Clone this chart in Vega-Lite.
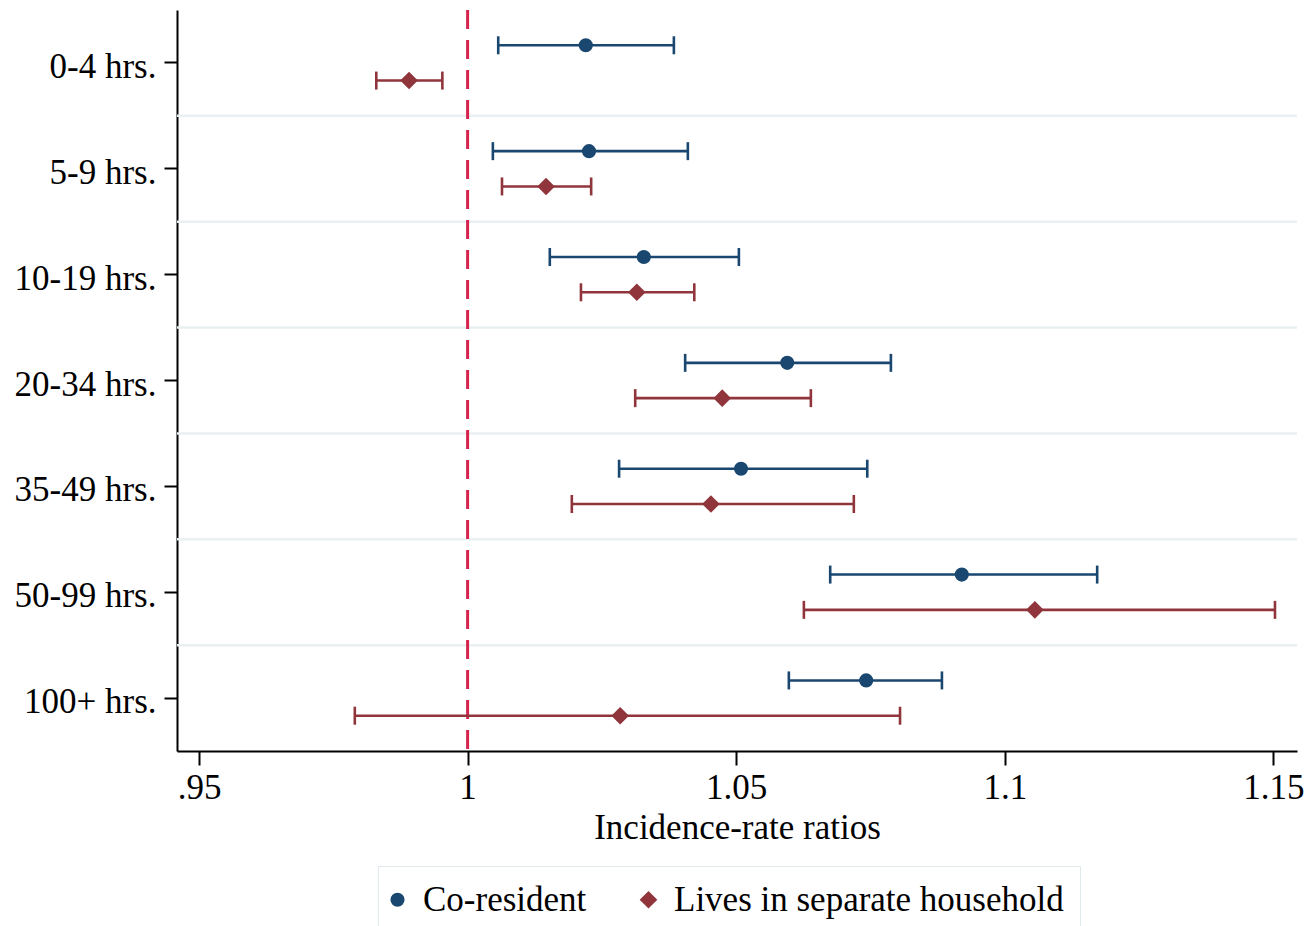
{
  "$schema": "https://vega.github.io/schema/vega-lite/v6.json",
  "width": 1120,
  "height": 741,
  "autosize": "none",
  "padding": {"left": 177, "top": 10, "right": 10, "bottom": 175},
  "background": "white",
  "config": {
    "view": {"stroke": null},
    "font": "Liberation Serif",
    "axis": {"labelFont": "Liberation Serif", "titleFont": "Liberation Serif", "labelColor": "black", "titleColor": "black", "domainColor": "black", "tickColor": "black", "labelFontWeight": "normal", "titleFontWeight": "normal"},
    "legend": {"labelFont": "Liberation Serif", "labelFontSize": 35, "labelColor": "black", "symbolSize": 150, "symbolStrokeWidth": 0, "symbolOpacity": 1, "symbolOffset": -14, "padding": 16, "columnPadding": 52, "labelOffset": 8, "strokeColor": "#dfe8ea", "fillColor": "white", "labelLimit": 600}
  },
  "data": {"values": [
    {"hours": "0-4 hrs.", "series": "Co-resident", "irr": 1.0220, "lo": 1.0057, "hi": 1.0384},
    {"hours": "0-4 hrs.", "series": "Lives in separate household", "irr": 0.9891, "lo": 0.9830, "hi": 0.9953},
    {"hours": "5-9 hrs.", "series": "Co-resident", "irr": 1.0226, "lo": 1.0047, "hi": 1.0410},
    {"hours": "5-9 hrs.", "series": "Lives in separate household", "irr": 1.0146, "lo": 1.0064, "hi": 1.0230},
    {"hours": "10-19 hrs.", "series": "Co-resident", "irr": 1.0328, "lo": 1.0153, "hi": 1.0505},
    {"hours": "10-19 hrs.", "series": "Lives in separate household", "irr": 1.0315, "lo": 1.0211, "hi": 1.0422},
    {"hours": "20-34 hrs.", "series": "Co-resident", "irr": 1.0595, "lo": 1.0405, "hi": 1.0788},
    {"hours": "20-34 hrs.", "series": "Lives in separate household", "irr": 1.0474, "lo": 1.0312, "hi": 1.0639},
    {"hours": "35-49 hrs.", "series": "Co-resident", "irr": 1.0509, "lo": 1.0282, "hi": 1.0744},
    {"hours": "35-49 hrs.", "series": "Lives in separate household", "irr": 1.0453, "lo": 1.0194, "hi": 1.0719},
    {"hours": "50-99 hrs.", "series": "Co-resident", "irr": 1.0920, "lo": 1.0675, "hi": 1.1172},
    {"hours": "50-99 hrs.", "series": "Lives in separate household", "irr": 1.1056, "lo": 1.0626, "hi": 1.1503},
    {"hours": "100+ hrs.", "series": "Co-resident", "irr": 1.0742, "lo": 1.0598, "hi": 1.0883},
    {"hours": "100+ hrs.", "series": "Lives in separate household", "irr": 1.0284, "lo": 0.9790, "hi": 1.0805}
  ]},
  "encoding": {
    "y": {
      "field": "hours", "type": "nominal",
      "sort": ["0-4 hrs.", "5-9 hrs.", "10-19 hrs.", "20-34 hrs.", "35-49 hrs.", "50-99 hrs.", "100+ hrs."],
      "scale": {"paddingInner": 0, "paddingOuter": 0},
      "axis": {"title": null, "grid": false, "labelFontSize": 35, "labelBaseline": "alphabetic", "labelOffset": 15, "labelPadding": 8, "tickSize": 13, "tickWidth": 2, "domainWidth": 2}
    }
  },
  "layer": [
    {
      "transform": [{"filter": "datum.series === 'Co-resident' && datum.hours !== '0-4 hrs.'"}],
      "mark": {"type": "rule", "color": "#e8f0f1", "strokeWidth": 2.5},
      "encoding": {
        "y": {"field": "hours", "type": "nominal", "bandPosition": 0,
              "sort": ["0-4 hrs.", "5-9 hrs.", "10-19 hrs.", "20-34 hrs.", "35-49 hrs.", "50-99 hrs.", "100+ hrs."]}
      }
    },
    {
      "data": {"values": [{"ref": 1}]},
      "mark": {"type": "rule", "color": "#d6224c", "strokeWidth": 3, "strokeDash": [19, 11]},
      "encoding": {"x": {"field": "ref", "type": "quantitative"}, "y": null}
    },
    {
      "mark": {"type": "rule", "strokeWidth": 2.6},
      "encoding": {
        "x": {"field": "lo", "type": "quantitative",
              "scale": {"domain": [0.9459, 1.1544], "nice": false, "zero": false},
              "axis": {"title": "Incidence-rate ratios", "values": [0.95, 1, 1.05, 1.1, 1.15], "labelExpr": "datum.value === 0.95 ? '.95' : format(datum.value, '~g')", "grid": false, "labelFontSize": 35, "titleFontSize": 35, "tickSize": 14, "tickWidth": 2, "domainWidth": 2, "labelPadding": 5, "titlePadding": 5}},
        "x2": {"field": "hi"},
        "yOffset": {"field": "series", "type": "nominal", "scale": {"paddingInner": 0, "paddingOuter": 0.5}},
        "color": {"field": "series", "type": "nominal", "scale": {"domain": ["Co-resident", "Lives in separate household"], "range": ["#1a476f", "#90353b"]}}
      }
    },
    {
      "mark": {"type": "tick", "thickness": 2.6, "size": 18, "orient": "vertical", "opacity": 1},
      "encoding": {
        "x": {"field": "lo", "type": "quantitative"},
        "yOffset": {"field": "series", "type": "nominal"},
        "color": {"field": "series", "type": "nominal"}
      }
    },
    {
      "mark": {"type": "tick", "thickness": 2.6, "size": 18, "orient": "vertical", "opacity": 1},
      "encoding": {
        "x": {"field": "hi", "type": "quantitative"},
        "yOffset": {"field": "series", "type": "nominal"},
        "color": {"field": "series", "type": "nominal"}
      }
    },
    {
      "mark": {"type": "point", "filled": true, "opacity": 1},
      "encoding": {
        "x": {"field": "irr", "type": "quantitative"},
        "yOffset": {"field": "series", "type": "nominal"},
        "color": {"field": "series", "type": "nominal",
                  "legend": {"title": null, "orient": "none", "direction": "horizontal", "legendX": 201, "legendY": 856}},
        "shape": {"field": "series", "type": "nominal", "scale": {"domain": ["Co-resident", "Lives in separate household"], "range": ["circle", "diamond"]},
                  "legend": {"title": null, "orient": "none", "direction": "horizontal", "legendX": 201, "legendY": 856}},
        "size": {"field": "series", "type": "nominal", "scale": {"domain": ["Co-resident", "Lives in separate household"], "range": [200, 310]}, "legend": null}
      }
    }
  ]
}
